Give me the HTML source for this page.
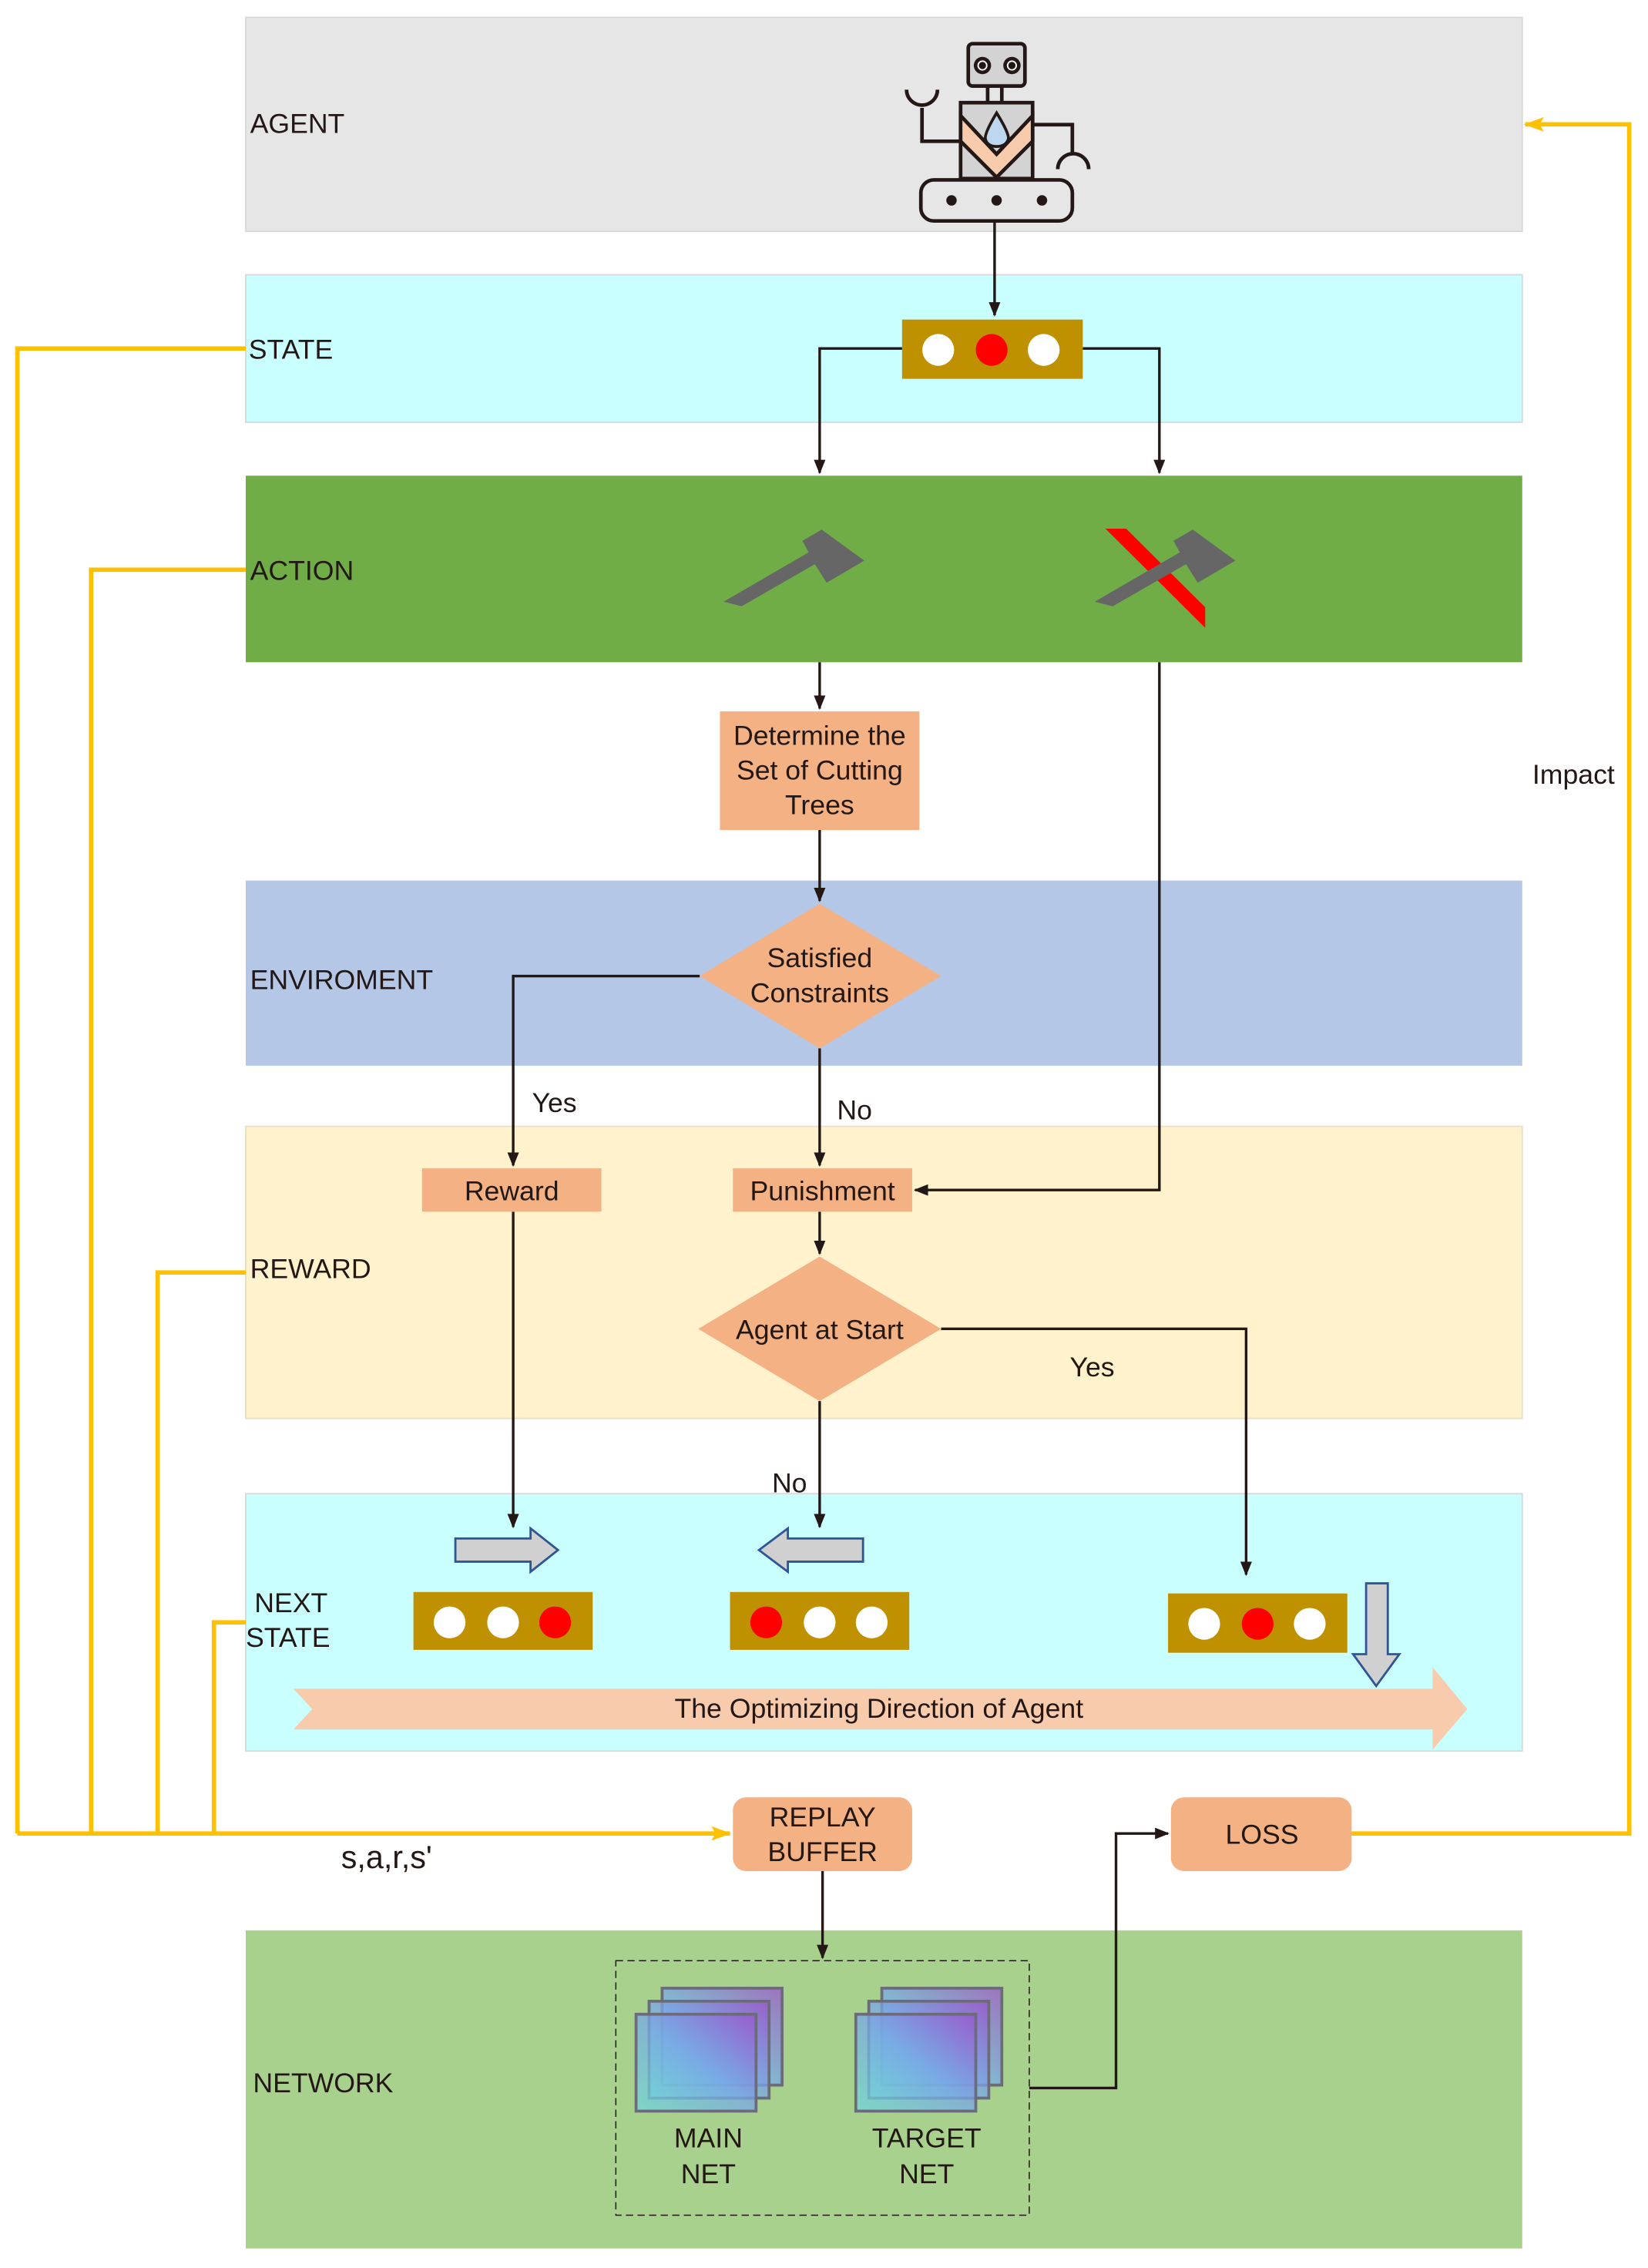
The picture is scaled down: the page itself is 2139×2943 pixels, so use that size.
<!DOCTYPE html>
<html><head><meta charset="utf-8"><style>
html,body{margin:0;padding:0;background:#fff;}
svg{display:block;}
text{font-family:"Liberation Sans",sans-serif;fill:#231815;}
</style></head><body>
<svg width="2139" height="2943" viewBox="0 0 1140 1568.5" preserveAspectRatio="none" xmlns="http://www.w3.org/2000/svg">
<defs>
<marker id="ah" markerWidth="10" markerHeight="10" refX="9" refY="5" orient="auto" markerUnits="userSpaceOnUse"><path d="M0,1 L10,5 L0,9 z" fill="#231815"/></marker>
<marker id="ay" markerWidth="14" markerHeight="12" refX="13" refY="6" orient="auto" markerUnits="userSpaceOnUse"><path d="M0,1 L14,6 L0,11 L3,6 z" fill="#ffc000"/></marker>
<linearGradient id="g" x1="0" y1="1" x2="1" y2="0"><stop offset="0" stop-color="#6fd8d8"/><stop offset="0.5" stop-color="#78a8e6"/><stop offset="1" stop-color="#9a55cc"/></linearGradient>
</defs>
<!-- bands -->
<rect x="170" y="12" width="883" height="148" fill="#e6e6e6" stroke="#d8d8d8"/>
<rect x="170" y="190" width="883" height="102" fill="#c9ffff" stroke="#d8d8d8"/>
<rect x="170" y="329" width="883" height="129" fill="#70ad47"/>
<rect x="170" y="609" width="883" height="128" fill="#b4c7e7"/>
<rect x="170" y="779" width="883" height="202" fill="#fff2cc" stroke="#e8e0c8"/>
<rect x="170" y="1033" width="883" height="178" fill="#c9ffff" stroke="#d8d8d8"/>
<rect x="170" y="1335" width="883" height="220" fill="#a9d18e"/>
<g font-size="19">
<text x="173" y="92">AGENT</text>
<text x="172" y="248">STATE</text>
<text x="173" y="401">ACTION</text>
<text x="173" y="684">ENVIROMENT</text>
<text x="173" y="884">REWARD</text>
<text x="176" y="1115">NEXT</text>
<text x="170" y="1139">STATE</text>
<text x="175" y="1447">NETWORK</text>
<text x="1060" y="542">Impact</text>
</g>
<!-- robot -->
<g stroke="#231815" stroke-width="2.5" fill="none">
<rect x="669.8" y="30.2" width="39.2" height="29.3" rx="3" fill="#d3d3d3"/>
<line x1="683.2" y1="59.9" x2="683.2" y2="71"/><line x1="693" y1="59.9" x2="693" y2="71"/>
<rect x="664.5" y="71" width="49.8" height="52.5" fill="#d3d3d3"/>
<polygon points="664.5,80 689.4,106.6 714.3,80 714.3,97.7 689.4,122.6 664.5,97.7" fill="#f8cbad"/>
<path d="M689.4,78.1 Q698,92 697.6,96 Q696,101.3 689.4,101.3 Q682.8,101.3 681.6,96 Q681,92 689.4,78.1 Z" fill="#bdd7ee" stroke-width="2"/>
<path d="M637.8,74.6 L637.8,97.7 L664.5,97.7"/>
<path d="M627.1,62 A10.7,10.7 0 0 0 648.5,62"/>
<path d="M714.3,86.2 L741.8,86.2 L741.8,105.5"/>
<path d="M731.7,117 A10.7,10.7 0 0 1 753.1,117"/>
<rect x="637" y="124.4" width="104.8" height="28.4" rx="9" fill="#e6e6e6"/>
<line x1="688" y1="152.8" x2="688" y2="218" stroke-width="1.8" marker-end="url(#ah)"/>
</g>
<g fill="#231815"><circle cx="658.2" cy="138.6" r="3.6"/><circle cx="689.4" cy="138.6" r="3.6"/><circle cx="720.8" cy="138.6" r="3.6"/>
<circle cx="679.6" cy="45.3" r="6"/><circle cx="700" cy="45.3" r="6"/></g>
<g fill="none" stroke="#fff" stroke-width="1"><circle cx="679.6" cy="45.3" r="3"/><circle cx="700" cy="45.3" r="3"/></g>
<!-- state box -->
<rect x="624" y="221" width="125" height="41" fill="#bf9000"/>
<circle cx="649" cy="242" r="11" fill="#fff"/><circle cx="686" cy="242" r="11" fill="#f00"/><circle cx="722" cy="242" r="11" fill="#fff"/>
<g stroke="#231815" stroke-width="1.8" fill="none">
<polyline points="624,241 567,241 567,327" marker-end="url(#ah)"/>
<polyline points="749,241 802,241 802,327" marker-end="url(#ah)"/>
<line x1="567" y1="458" x2="567" y2="490" marker-end="url(#ah)"/>
<line x1="567" y1="574" x2="567" y2="623" marker-end="url(#ah)"/>
<polyline points="484,675 355,675 355,806" marker-end="url(#ah)"/>
<line x1="567" y1="725" x2="567" y2="806" marker-end="url(#ah)"/>
<polyline points="802,458 802,823 633,823" marker-end="url(#ah)"/>
<line x1="567" y1="838" x2="567" y2="867" marker-end="url(#ah)"/>
<polyline points="651,919 862,919 862,1089" marker-end="url(#ah)"/>
<line x1="567" y1="969" x2="567" y2="1056" marker-end="url(#ah)"/>
<line x1="355" y1="838" x2="355" y2="1056" marker-end="url(#ah)"/>
<line x1="569" y1="1294" x2="569" y2="1354" marker-end="url(#ah)"/>
<polyline points="712,1444 772,1444 772,1268 808,1268" marker-end="url(#ah)"/>
</g>
<!-- axes -->
<polygon points="500.6,416.1 513,419.3 563.7,390.2 571.8,403 597.9,387.7 568.4,366.3 555.1,374 559.4,382" fill="#666"/>
<polygon points="764.7,365.6 779,365.6 833.7,420 833.7,434.2" fill="#f00"/>
<polygon points="757.3,416.1 769.7,419.3 820.4,390.2 828.5,403 854.6,387.7 825.1,366.3 811.8,374 816.1,382" fill="#666"/>
<!-- process nodes -->
<rect x="498" y="492" width="138" height="82" fill="#f4b183"/>
<g font-size="19" text-anchor="middle">
<text x="567" y="515">Determine the</text><text x="567" y="539">Set of Cutting</text><text x="567" y="563">Trees</text>
</g>
<polygon points="567,625 651,675 567,725 484,675" fill="#f4b183"/>
<text x="567" y="669" font-size="19" text-anchor="middle">Satisfied</text>
<text x="567" y="693" font-size="19" text-anchor="middle">Constraints</text>
<rect x="292" y="808" width="124" height="30" fill="#f4b183"/>
<text x="354" y="830" font-size="19" text-anchor="middle">Reward</text>
<rect x="507" y="808" width="124" height="30" fill="#f4b183"/>
<text x="569" y="830" font-size="19" text-anchor="middle">Punishment</text>
<polygon points="567,869 651,919 567,969 483,919" fill="#f4b183"/>
<text x="567" y="926" font-size="19" text-anchor="middle">Agent at Start</text>
<g font-size="19"><text x="368" y="769">Yes</text><text x="579" y="774">No</text><text x="740" y="952">Yes</text><text x="534" y="1032">No</text></g>
<!-- block arrows -->
<polygon points="315,1064 367,1064 367,1057 386,1072 367,1087 367,1080 315,1080" fill="#d0d0d0" stroke="#2f5597" stroke-width="1.5"/>
<polygon points="597,1064 545,1064 545,1057 525,1072 545,1087 545,1080 597,1080" fill="#d0d0d0" stroke="#2f5597" stroke-width="1.5"/>
<polygon points="945,1095 960,1095 960,1144 968,1144 952,1166 936,1144 945,1144" fill="#d0d0d0" stroke="#2f5597" stroke-width="1.5"/>
<!-- next states -->
<rect x="286" y="1101" width="124" height="40" fill="#bf9000"/>
<circle cx="311" cy="1122" r="11" fill="#fff"/><circle cx="348" cy="1122" r="11" fill="#fff"/><circle cx="384" cy="1122" r="11" fill="#f00"/>
<rect x="505" y="1101" width="124" height="40" fill="#bf9000"/>
<circle cx="530" cy="1122" r="11" fill="#f00"/><circle cx="567" cy="1122" r="11" fill="#fff"/><circle cx="603" cy="1122" r="11" fill="#fff"/>
<rect x="808" y="1102" width="124" height="41" fill="#bf9000"/>
<circle cx="833" cy="1123" r="11" fill="#fff"/><circle cx="870" cy="1123" r="11" fill="#f00"/><circle cx="906" cy="1123" r="11" fill="#fff"/>
<polygon points="203,1168 991,1168 991,1153 1015,1182 991,1210 991,1196 203,1196 216,1182" fill="#f8cbad"/>
<text x="608" y="1188" font-size="19" text-anchor="middle">The Optimizing Direction of Agent</text>
<!-- replay / loss -->
<rect x="507" y="1243" width="124" height="51" rx="9" fill="#f4b183"/>
<text x="569" y="1263" font-size="19" text-anchor="middle">REPLAY</text>
<text x="569" y="1287" font-size="19" text-anchor="middle">BUFFER</text>
<rect x="810" y="1243" width="125" height="51" rx="9" fill="#f4b183"/>
<text x="873" y="1275" font-size="19" text-anchor="middle">LOSS</text>
<text x="236" y="1292" font-size="22">s,a,r,s'</text>
<!-- yellow lines -->
<g stroke="#ffc000" stroke-width="3" fill="none">
<polyline points="170,241 12,241 12,1268"/>
<polyline points="170,394 63,394 63,1268"/>
<polyline points="170,880 109,880 109,1268"/>
<polyline points="170,1122 148,1122 148,1268"/>
<polyline points="12,1268 505,1268" marker-end="url(#ay)"/>
<polyline points="935,1268 1127,1268 1127,86 1055,86" marker-end="url(#ay)"/>
</g>
<!-- network -->
<rect x="426" y="1356" width="286" height="176" fill="none" stroke="#231815" stroke-width="0.8" stroke-dasharray="5,3"/>
<g stroke="#6b6b7a" stroke-width="2" fill="url(#g)" fill-opacity="0.75">
<rect x="458" y="1375" width="83" height="67"/><rect x="449" y="1384" width="83" height="67"/><rect x="440" y="1393" width="83" height="67"/>
<rect x="610" y="1375" width="83" height="67"/><rect x="601" y="1384" width="83" height="67"/><rect x="592" y="1393" width="83" height="67"/>
</g>
<g font-size="19" text-anchor="middle">
<text x="490" y="1485">MAIN</text><text x="490" y="1510">NET</text>
<text x="641" y="1485">TARGET</text><text x="641" y="1510">NET</text>
</g>
</svg>
</body></html>
